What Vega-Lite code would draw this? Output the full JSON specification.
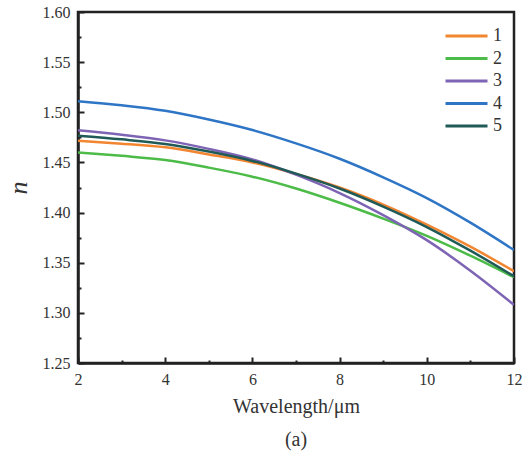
{
  "$schema": "https://vega.github.io/schema/vega-lite/v6.json",
  "width": 436,
  "height": 351,
  "autosize": "none",
  "padding": {"left": 78, "top": 12, "right": 9, "bottom": 94},
  "background": "white",
  "config": {
    "view": {"stroke": "#222", "strokeWidth": 2.5},
    "font": "Liberation Serif",
    "style": {"guide-label": {"font": "Liberation Serif"}, "guide-title": {"font": "Liberation Serif"}},
    "axis": {"grid": false, "labelFlush": false, "labelOverlap": false, "labelFont": "Liberation Serif", "titleFont": "Liberation Serif", "labelColor": "#333", "titleColor": "#333", "domainColor": "#222", "domainWidth": 2.5, "tickColor": "#222", "tickWidth": 2},
    "legend": {"labelFont": "Liberation Serif"}
  },
  "title": {"text": "(a)", "orient": "bottom", "font": "Liberation Serif", "fontSize": 20, "fontWeight": "normal", "color": "#333", "offset": 14},
  "data": {
    "values": [
      {"x": 2, "n": 1.4717, "s": "1"}, {"x": 3, "n": 1.4687, "s": "1"}, {"x": 4, "n": 1.4651, "s": "1"}, {"x": 5, "n": 1.4580, "s": "1"}, {"x": 6, "n": 1.4500, "s": "1"}, {"x": 7, "n": 1.4385, "s": "1"}, {"x": 8, "n": 1.4250, "s": "1"}, {"x": 9, "n": 1.4080, "s": "1"}, {"x": 10, "n": 1.3880, "s": "1"}, {"x": 11, "n": 1.3660, "s": "1"}, {"x": 12, "n": 1.3415, "s": "1"},
      {"x": 2, "n": 1.4600, "s": "2"}, {"x": 3, "n": 1.4566, "s": "2"}, {"x": 4, "n": 1.4524, "s": "2"}, {"x": 5, "n": 1.4448, "s": "2"}, {"x": 6, "n": 1.4358, "s": "2"}, {"x": 7, "n": 1.4240, "s": "2"}, {"x": 8, "n": 1.4098, "s": "2"}, {"x": 9, "n": 1.3940, "s": "2"}, {"x": 10, "n": 1.3768, "s": "2"}, {"x": 11, "n": 1.3570, "s": "2"}, {"x": 12, "n": 1.3355, "s": "2"},
      {"x": 2, "n": 1.4820, "s": "3"}, {"x": 3, "n": 1.4776, "s": "3"}, {"x": 4, "n": 1.4720, "s": "3"}, {"x": 5, "n": 1.4635, "s": "3"}, {"x": 6, "n": 1.4530, "s": "3"}, {"x": 7, "n": 1.4378, "s": "3"}, {"x": 8, "n": 1.4195, "s": "3"}, {"x": 9, "n": 1.3975, "s": "3"}, {"x": 10, "n": 1.3725, "s": "3"}, {"x": 11, "n": 1.3420, "s": "3"}, {"x": 12, "n": 1.3080, "s": "3"},
      {"x": 2, "n": 1.5110, "s": "4"}, {"x": 3, "n": 1.5070, "s": "4"}, {"x": 4, "n": 1.5015, "s": "4"}, {"x": 5, "n": 1.4928, "s": "4"}, {"x": 6, "n": 1.4823, "s": "4"}, {"x": 7, "n": 1.4690, "s": "4"}, {"x": 8, "n": 1.4537, "s": "4"}, {"x": 9, "n": 1.4352, "s": "4"}, {"x": 10, "n": 1.4145, "s": "4"}, {"x": 11, "n": 1.3900, "s": "4"}, {"x": 12, "n": 1.3627, "s": "4"},
      {"x": 2, "n": 1.4767, "s": "5"}, {"x": 3, "n": 1.4730, "s": "5"}, {"x": 4, "n": 1.4684, "s": "5"}, {"x": 5, "n": 1.4608, "s": "5"}, {"x": 6, "n": 1.4515, "s": "5"}, {"x": 7, "n": 1.4388, "s": "5"}, {"x": 8, "n": 1.4240, "s": "5"}, {"x": 9, "n": 1.4060, "s": "5"}, {"x": 10, "n": 1.3856, "s": "5"}, {"x": 11, "n": 1.3620, "s": "5"}, {"x": 12, "n": 1.3365, "s": "5"}
    ]
  },
  "resolve": {"axis": {"x": "independent", "y": "independent"}},
  "layer": [
    {
      "mark": {"type": "line", "strokeWidth": 2.5, "interpolate": "monotone", "clip": true},
      "encoding": {
        "x": {"field": "x", "type": "quantitative", "scale": {"domain": [2, 12], "nice": false, "zero": false},
          "axis": {"orient": "bottom", "values": [2, 4, 6, 8, 10, 12], "tickSize": -6, "labelPadding": 14, "labelFontSize": 16, "labelFont": "Liberation Serif", "labelFlush": false, "title": "Wavelength/μm", "titleFont": "Liberation Serif", "titleFontSize": 20, "titleFontWeight": "normal", "titlePadding": 9}},
        "y": {"field": "n", "type": "quantitative", "scale": {"domain": [1.25, 1.6], "nice": false, "zero": false},
          "axis": {"orient": "left", "values": [1.25, 1.3, 1.35, 1.4, 1.45, 1.5, 1.55, 1.6], "format": ".2f", "tickSize": -6, "labelPadding": 14, "labelFontSize": 16, "labelFont": "Liberation Serif", "labelFlush": false, "title": "n", "titleFont": "Liberation Serif", "titleFontSize": 26, "titleFontStyle": "italic", "titleFontWeight": "normal", "titlePadding": 11}},
        "color": {"field": "s", "type": "nominal",
          "scale": {"domain": ["1", "2", "3", "4", "5"], "range": ["#f28530", "#4cbb47", "#7e64b4", "#2e75c5", "#1f5a56"]},
          "legend": {"title": null, "orient": "none", "legendX": 376.5, "legendY": 12, "padding": 0, "symbolType": "M-2,0H2", "symbolSize": 441, "symbolStrokeWidth": 3, "labelFontSize": 18, "labelFont": "Liberation Serif", "labelColor": "#333", "rowPadding": 1.5, "labelOffset": 14.5}}
      }
    },
    {
      "mark": {"type": "rule", "opacity": 0},
      "encoding": {
        "x": {"datum": 2, "type": "quantitative", "axis": {"orient": "bottom", "values": [3, 5, 7, 9, 11], "tickSize": -3, "labels": false, "domain": false, "title": null}},
        "y": {"datum": 1.25, "type": "quantitative", "axis": {"orient": "left", "values": [1.275, 1.325, 1.375, 1.425, 1.475, 1.525, 1.575], "tickSize": -3, "labels": false, "domain": false, "title": null}}
      }
    }
  ]
}
